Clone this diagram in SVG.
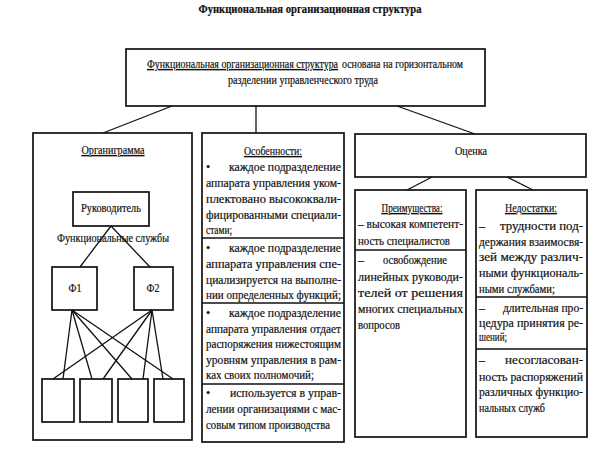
<svg xmlns="http://www.w3.org/2000/svg" width="611" height="452" viewBox="0 0 611 452">
<style>
.b{fill:#fff;stroke:#111;stroke-width:1.7}
.n{fill:none;stroke:#111;stroke-width:1.7}
.d{stroke:#111;stroke-width:1.5}
.c{stroke:#111;stroke-width:1.3;fill:none}
.m{text-anchor:middle}
.u{text-decoration:underline}
</style>
<rect width="611" height="452" fill="#fff"/>
<g font-family="'Liberation Serif', Tinos, 'Times New Roman', 'DejaVu Serif', 'Noto Serif', serif" font-size="12" fill="#111" stroke="#111" stroke-width="0.2">
<text class="m" x="310" y="13" font-weight="bold" textLength="223" lengthAdjust="spacingAndGlyphs">Функциональная организационная структура</text>

<g id="top">
<rect class="b" x="126" y="49" width="359" height="57"/>
<text class="u" x="147" y="68" textLength="191" lengthAdjust="spacingAndGlyphs">Функциональная организационная структура</text>
<text x="342" y="68" textLength="121" lengthAdjust="spacingAndGlyphs">основана на горизонтальном</text>
<text x="228" y="84" textLength="150" lengthAdjust="spacingAndGlyphs">разделении управленческого труда</text>
</g>

<g id="organigram">
<rect class="n" x="33" y="133" width="159" height="307"/>
<text class="m u" x="113" y="154" textLength="63" lengthAdjust="spacingAndGlyphs">Органиграмма</text>
</g>
<g id="head">
<rect class="b" x="73" y="192" width="76" height="34"/>
<text class="m" x="111" y="212" textLength="60" lengthAdjust="spacingAndGlyphs">Руководитель</text>
</g>
<text id="services" class="m" x="113" y="242" textLength="112" lengthAdjust="spacingAndGlyphs">Функциональные службы</text>
<g id="f1">
<rect class="b" x="52" y="267" width="45" height="43"/>
<text class="m" x="75" y="292" textLength="13" lengthAdjust="spacingAndGlyphs">Ф1</text>
</g>
<g id="f2">
<rect class="b" x="134" y="267" width="39" height="43"/>
<text class="m" x="153" y="292" textLength="13" lengthAdjust="spacingAndGlyphs">Ф2</text>
</g>
<g id="u1"><rect class="b" x="42" y="379" width="32" height="43"/></g>
<g id="u2"><rect class="b" x="80" y="379" width="32" height="43"/></g>
<g id="u3"><rect class="b" x="118" y="379" width="30" height="43"/></g>
<g id="u4"><rect class="b" x="154" y="379" width="30" height="43"/></g>

<g id="features">
<rect class="b" x="202" y="133" width="142" height="309"/>
<line class="d" x1="202" y1="238" x2="344" y2="238"/>
<line class="d" x1="202" y1="303" x2="344" y2="303"/>
<line class="d" x1="202" y1="384" x2="344" y2="384"/>
<text class="m u" x="273" y="155" textLength="58" lengthAdjust="spacingAndGlyphs">Особенности:</text>
<text x="206" y="171">•</text>
<text x="229" y="171" textLength="112" lengthAdjust="spacingAndGlyphs">каждое подразделение</text>
<text x="206" y="187" textLength="135" lengthAdjust="spacingAndGlyphs">аппарата управления уком-</text>
<text x="206" y="203" textLength="135" lengthAdjust="spacingAndGlyphs">плектовано высококвали-</text>
<text x="206" y="219" textLength="135" lengthAdjust="spacingAndGlyphs">фицированными специали-</text>
<text x="206" y="234" textLength="26" lengthAdjust="spacingAndGlyphs">стами;</text>
<text x="206" y="252">•</text>
<text x="229" y="252" textLength="112" lengthAdjust="spacingAndGlyphs">каждое подразделение</text>
<text x="206" y="268" textLength="135" lengthAdjust="spacingAndGlyphs">аппарата управления спе-</text>
<text x="206" y="284" textLength="135" lengthAdjust="spacingAndGlyphs">циализируется на выполне-</text>
<text x="206" y="299" textLength="135" lengthAdjust="spacingAndGlyphs">нии определенных функций;</text>
<text x="206" y="317">•</text>
<text x="229" y="317" textLength="112" lengthAdjust="spacingAndGlyphs">каждое подразделение</text>
<text x="206" y="333" textLength="135" lengthAdjust="spacingAndGlyphs">аппарата управления отдает</text>
<text x="206" y="348" textLength="135" lengthAdjust="spacingAndGlyphs">распоряжения нижестоящим</text>
<text x="206" y="364" textLength="135" lengthAdjust="spacingAndGlyphs">уровням управления в рам-</text>
<text x="206" y="379" textLength="108" lengthAdjust="spacingAndGlyphs">ках своих полномочий;</text>
<text x="206" y="397">•</text>
<text x="230" y="397" textLength="111" lengthAdjust="spacingAndGlyphs">используется в управ-</text>
<text x="206" y="413" textLength="135" lengthAdjust="spacingAndGlyphs">лении организациями с мас-</text>
<text x="206" y="429" textLength="124" lengthAdjust="spacingAndGlyphs">совым типом производства</text>
</g>

<g id="evaluation">
<rect class="b" x="355" y="134" width="231" height="43"/>
<text class="m" x="471" y="155" textLength="32" lengthAdjust="spacingAndGlyphs">Оценка</text>
</g>

<g id="advantages">
<rect class="b" x="355" y="190" width="111" height="247"/>
<line class="d" x1="355" y1="250" x2="466" y2="250"/>
<text class="m u" x="412" y="212" textLength="61" lengthAdjust="spacingAndGlyphs">Преимущества:</text>
<text x="358" y="228" textLength="105" lengthAdjust="spacingAndGlyphs">– высокая компетент-</text>
<text x="358" y="245" textLength="92" lengthAdjust="spacingAndGlyphs">ность специалистов</text>
<text x="358" y="264">–</text>
<text x="383" y="264" textLength="64" lengthAdjust="spacingAndGlyphs">освобождение</text>
<text x="358" y="281" textLength="105" lengthAdjust="spacingAndGlyphs">линейных руководи-</text>
<text x="358" y="297" textLength="105" lengthAdjust="spacingAndGlyphs">телей от решения</text>
<text x="358" y="313" textLength="105" lengthAdjust="spacingAndGlyphs">многих специальных</text>
<text x="358" y="329" textLength="42" lengthAdjust="spacingAndGlyphs">вопросов</text>
</g>

<g id="disadvantages">
<rect class="b" x="476" y="190" width="111" height="247"/>
<line class="d" x1="476" y1="297" x2="587" y2="297"/>
<line class="d" x1="476" y1="349" x2="587" y2="349"/>
<text class="m u" x="531" y="212" textLength="52" lengthAdjust="spacingAndGlyphs">Недостатки:</text>
<text x="479" y="230">–</text>
<text x="500" y="230" textLength="83" lengthAdjust="spacingAndGlyphs">трудности под-</text>
<text x="479" y="246" textLength="104" lengthAdjust="spacingAndGlyphs">держания взаимосвя-</text>
<text x="479" y="261" textLength="104" lengthAdjust="spacingAndGlyphs">зей между различ-</text>
<text x="479" y="277" textLength="104" lengthAdjust="spacingAndGlyphs">ными функциональ-</text>
<text x="479" y="293" textLength="76" lengthAdjust="spacingAndGlyphs">ными службами;</text>
<text x="479" y="312">–</text>
<text x="503" y="312" textLength="80" lengthAdjust="spacingAndGlyphs">длительная про-</text>
<text x="479" y="327" textLength="104" lengthAdjust="spacingAndGlyphs">цедура принятия ре-</text>
<text x="479" y="341" textLength="28" lengthAdjust="spacingAndGlyphs">шений;</text>
<text x="479" y="364">–</text>
<text x="505" y="364" textLength="78" lengthAdjust="spacingAndGlyphs">несогласован-</text>
<text x="479" y="381" textLength="104" lengthAdjust="spacingAndGlyphs">ность распоряжений</text>
<text x="479" y="396" textLength="104" lengthAdjust="spacingAndGlyphs">различных функцио-</text>
<text x="479" y="412" textLength="66" lengthAdjust="spacingAndGlyphs">нальных служб</text>
</g>
</g>

<g id="connectors">
<line class="c" x1="172" y1="106" x2="103" y2="133"/>
<line class="c" x1="256" y1="106" x2="256" y2="133"/>
<line class="c" x1="397" y1="106" x2="475" y2="134"/>
<line class="c" x1="432" y1="177" x2="407" y2="190"/>
<line class="c" x1="507" y1="177" x2="533" y2="190"/>
<line class="c" x1="111" y1="226" x2="80" y2="267"/>
<line class="c" x1="111" y1="226" x2="150" y2="267"/>
<line class="c" x1="72" y1="310" x2="63" y2="379"/>
<line class="c" x1="72" y1="310" x2="92" y2="379"/>
<line class="c" x1="72" y1="310" x2="132" y2="379"/>
<line class="c" x1="72" y1="310" x2="173" y2="379"/>
<line class="c" x1="152" y1="310" x2="53" y2="379"/>
<line class="c" x1="152" y1="310" x2="103" y2="379"/>
<line class="c" x1="152" y1="310" x2="143" y2="379"/>
<line class="c" x1="152" y1="310" x2="163" y2="379"/>
</g>
</svg>
